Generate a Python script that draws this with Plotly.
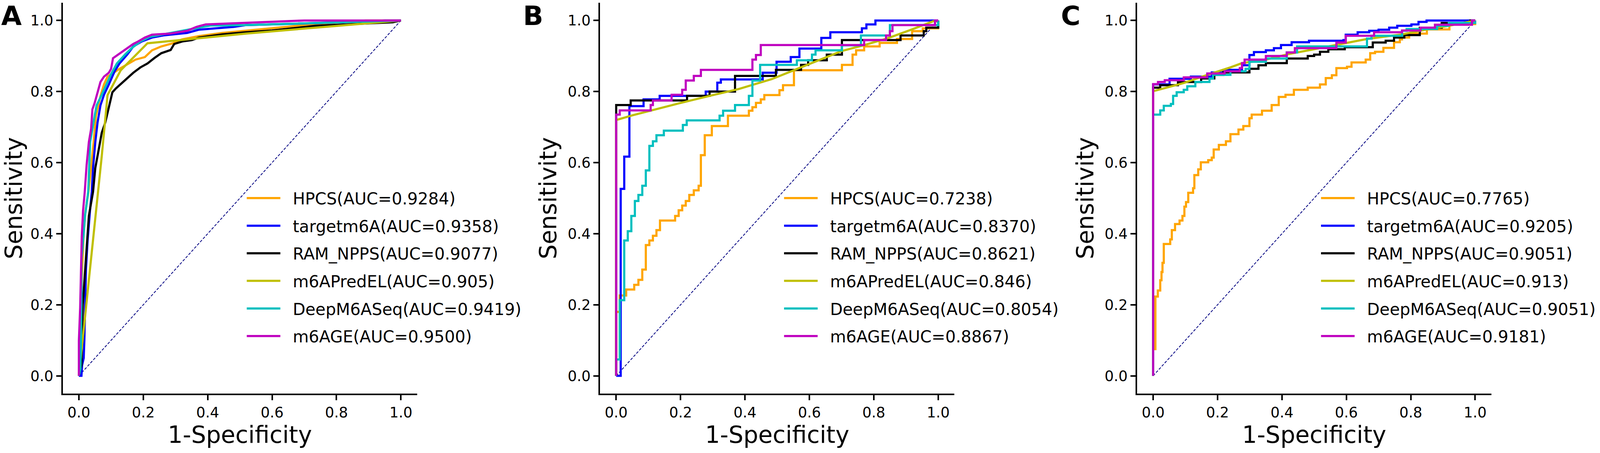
import plotly.graph_objects as go

# ---------------- data ----------------
METHODS = ["HPCS", "targetm6A", "RAM_NPPS", "m6APredEL", "DeepM6ASeq", "m6AGE"]

AUC_A = ["0.9284", "0.9358", "0.9077", "0.905", "0.9419", "0.9500"]
AUC_B = ["0.7238", "0.8370", "0.8621", "0.846", "0.8054", "0.8867"]
AUC_C = ["0.7765", "0.9205", "0.9051", "0.913", "0.9051", "0.9181"]

TICKS = [0.0, 0.2, 0.4, 0.6, 0.8, 1.0]
DIAG = [0, 1]

# panel A
A_HPCS_FPR = [0, 0.005, 0.010, 0.015, 0.020, 0.030, 0.038, 0.046, 0.053, 0.067, 0.078, 0.089, 0.126, 0.147,
              0.176, 0.205, 0.227, 0.256, 0.292, 0.321, 0.372, 0.445, 0.518, 0.60, 0.735, 0.89, 1.0]
A_HPCS_TPR = [0, 0.15, 0.30, 0.40, 0.46, 0.52, 0.585, 0.658, 0.732, 0.787, 0.820, 0.842, 0.864, 0.875,
              0.890, 0.897, 0.916, 0.927, 0.936, 0.947, 0.956, 0.965, 0.971, 0.978, 0.990, 1.0, 1.0]
A_TARGET_FPR = [0, 0.008, 0.010, 0.015, 0.017, 0.020, 0.022, 0.027, 0.030, 0.035, 0.040, 0.044, 0.051, 0.058,
                0.067, 0.078, 0.093, 0.111, 0.126, 0.151, 0.169, 0.195, 0.227, 0.263, 0.336, 0.372, 0.481,
                0.518, 0.75, 0.95, 1.0]
A_TARGET_TPR = [0, 0.0, 0.03, 0.05, 0.10, 0.20, 0.30, 0.38, 0.42, 0.47, 0.518, 0.585, 0.658, 0.713,
                0.761, 0.791, 0.820, 0.857, 0.879, 0.905, 0.927, 0.941, 0.952, 0.958, 0.965, 0.974, 0.982,
                0.987, 0.993, 1.0, 1.0]
A_RAM_FPR = [0, 0.008, 0.012, 0.018, 0.024, 0.031, 0.044, 0.051, 0.060, 0.071, 0.082, 0.089, 0.096, 0.104,
             0.115, 0.129, 0.147, 0.169, 0.191, 0.213, 0.234, 0.256, 0.285, 0.296, 0.321, 0.351, 0.372,
             0.445, 0.518, 0.60, 0.735, 0.975, 1.0]
A_RAM_TPR = [0, 0.03, 0.20, 0.28, 0.37, 0.45, 0.518, 0.585, 0.629, 0.684, 0.713, 0.739, 0.768, 0.798,
             0.809, 0.820, 0.835, 0.853, 0.868, 0.879, 0.894, 0.908, 0.917, 0.934, 0.941, 0.945, 0.952,
             0.961, 0.967, 0.972, 0.985, 0.995, 1.0]
A_PREDEL_FPR = [0, 0.071, 0.089, 0.13, 0.213, 0.518, 0.735, 1.0]
A_PREDEL_TPR = [0, 0.618, 0.79, 0.86, 0.936, 0.963, 0.98, 1.0]
A_DEEP_FPR = [0, 0.005, 0.008, 0.008, 0.014, 0.019, 0.029, 0.035, 0.049, 0.055, 0.071, 0.086, 0.100, 0.118,
              0.144, 0.165, 0.191, 0.220, 0.274, 0.318, 0.372, 0.409, 0.518, 0.735, 0.90, 1.0]
A_DEEP_TPR = [0, 0.02, 0.20, 0.325, 0.39, 0.45, 0.518, 0.658, 0.732, 0.761, 0.791, 0.820, 0.849, 0.879,
              0.905, 0.923, 0.941, 0.954, 0.963, 0.971, 0.980, 0.986, 0.987, 0.993, 0.998, 1.0]
A_M6AGE_FPR = [0, 0, 0.004, 0.006, 0.009, 0.013, 0.018, 0.024, 0.031, 0.038, 0.042, 0.049, 0.060, 0.067,
               0.078, 0.093, 0.100, 0.106, 0.111, 0.129, 0.147, 0.169, 0.184, 0.205, 0.227, 0.282, 0.336,
               0.365, 0.394, 0.518, 0.70, 1.0]
A_M6AGE_TPR = [0, 0.098, 0.192, 0.263, 0.392, 0.465, 0.515, 0.593, 0.658, 0.695, 0.750, 0.768, 0.805, 0.827,
               0.842, 0.853, 0.864, 0.894, 0.897, 0.908, 0.919, 0.934, 0.941, 0.952, 0.960, 0.963, 0.971,
               0.982, 0.989, 0.993, 1.0, 1.0]

# panel B
B_HPCS_FPR = [0, 0, 0.011, 0.031, 0.056, 0.069, 0.081, 0.092, 0.103, 0.114, 0.125, 0.136, 0.183, 0.194,
              0.205, 0.216, 0.227, 0.241, 0.256, 0.263, 0.275, 0.297, 0.347, 0.412, 0.423, 0.434, 0.449,
              0.46, 0.507, 0.518, 0.552, 0.701, 0.734, 0.745, 0.77, 0.818, 0.872, 0.919, 0.952, 1.0]
B_HPCS_TPR = [0, 0.18, 0.226, 0.243, 0.256, 0.27, 0.299, 0.368, 0.381, 0.394, 0.41, 0.437, 0.45, 0.466,
              0.479, 0.492, 0.509, 0.522, 0.535, 0.621, 0.677, 0.703, 0.732, 0.746, 0.756, 0.768, 0.778,
              0.79, 0.804, 0.818, 0.86, 0.875, 0.904, 0.916, 0.927, 0.937, 0.948, 0.97, 0.978, 1.0]
B_TARGET_FPR = [0, 0.014, 0.025, 0.041, 0.085, 0.135, 0.278, 0.314, 0.325, 0.455, 0.498, 0.542, 0.569,
                0.637, 0.665, 0.763, 0.777, 0.805, 1.0]
B_TARGET_TPR = [0, 0.526, 0.617, 0.759, 0.778, 0.788, 0.80, 0.825, 0.834, 0.853, 0.884, 0.897, 0.921,
                0.951, 0.967, 0.978, 0.989, 1.0, 1.0]
B_RAM_FPR = [0, 0, 0.045, 0.22, 0.29, 0.369, 0.496, 0.574, 0.596, 0.654, 0.701, 0.883, 0.955, 0.963, 1.0]
B_RAM_TPR = [0, 0.762, 0.775, 0.788, 0.80, 0.844, 0.861, 0.875, 0.888, 0.904, 0.945, 0.958, 0.97, 0.98, 1.0]
B_PREDEL_FPR = [0, 0, 0.05, 0.1, 0.2, 0.3, 0.38, 0.483, 0.552, 0.7, 0.767, 0.843, 0.919, 0.985, 1.0]
B_PREDEL_TPR = [0, 0.72, 0.733, 0.745, 0.768, 0.79, 0.807, 0.835, 0.86, 0.914, 0.93, 0.95, 0.975, 0.998, 1.0]
B_DEEP_FPR = [0, 0, 0.011, 0.025, 0.036, 0.047, 0.058, 0.069, 0.081, 0.092, 0.103, 0.114, 0.125, 0.148,
              0.207, 0.219, 0.321, 0.332, 0.369, 0.412, 0.423, 0.447, 0.561, 0.608, 0.619, 0.701, 0.76,
              0.85, 1.0]
B_DEEP_TPR = [0, 0.046, 0.213, 0.381, 0.407, 0.45, 0.492, 0.509, 0.535, 0.578, 0.647, 0.66, 0.677, 0.69,
              0.706, 0.719, 0.732, 0.746, 0.762, 0.788, 0.831, 0.875, 0.888, 0.904, 0.916, 0.93, 0.958,
              0.987, 1.0]
B_M6AGE_FPR = [0, 0, 0.011, 0.107, 0.114, 0.172, 0.205, 0.216, 0.241, 0.263, 0.423, 0.434, 0.449, 0.77,
               0.838, 0.85, 0.858, 0.99, 1.0]
B_M6AGE_TPR = [0, 0.735, 0.747, 0.762, 0.775, 0.791, 0.805, 0.831, 0.844, 0.861, 0.89, 0.903, 0.931, 0.945,
               0.958, 0.97, 0.987, 1.0, 1.0]

# panel C
C_HPCS_FPR = [0, 0, 0.007, 0.0145, 0.022, 0.026, 0.029, 0.033, 0.053, 0.058, 0.068, 0.082, 0.091, 0.097,
              0.102, 0.109, 0.124, 0.128, 0.14, 0.148, 0.171, 0.182, 0.188, 0.204, 0.226, 0.24, 0.265, 0.28,
              0.299, 0.306, 0.338, 0.368, 0.39, 0.411, 0.437, 0.48, 0.518, 0.536, 0.555, 0.569, 0.602,
              0.616, 0.66, 0.674, 0.689, 0.715, 0.748, 0.766, 0.773, 0.795, 0.85, 0.92, 1.0]
C_HPCS_TPR = [0, 0.075, 0.223, 0.24, 0.269, 0.292, 0.318, 0.371, 0.384, 0.41, 0.427, 0.437, 0.45, 0.476,
              0.489, 0.515, 0.528, 0.565, 0.581, 0.601, 0.607, 0.614, 0.637, 0.65, 0.66, 0.68, 0.693, 0.703,
              0.725, 0.735, 0.746, 0.762, 0.785, 0.791, 0.805, 0.811, 0.82, 0.838, 0.846, 0.866, 0.87,
              0.882, 0.89, 0.908, 0.912, 0.923, 0.939, 0.947, 0.952, 0.963, 0.975, 0.99, 1.0]
C_TARGET_FPR = [0, 0, 0.051, 0.117, 0.182, 0.218, 0.276, 0.299, 0.313, 0.35, 0.375, 0.397, 0.43, 0.484,
                0.591, 0.598, 0.635, 0.671, 0.70, 0.733, 0.758, 0.802, 0.824, 0.849, 1.0]
C_TARGET_TPR = [0, 0.82, 0.836, 0.842, 0.854, 0.861, 0.874, 0.903, 0.911, 0.916, 0.922, 0.931, 0.939, 0.943,
                0.945, 0.96, 0.967, 0.971, 0.974, 0.98, 0.985, 0.989, 0.996, 1.0, 1.0]
C_RAM_FPR = [0, 0, 0.022, 0.077, 0.149, 0.19, 0.218, 0.299, 0.327, 0.35, 0.415, 0.48, 0.50, 0.518, 0.544,
             0.595, 0.682, 0.722, 0.748, 0.78, 0.828, 0.896, 0.985, 1.0]
C_RAM_TPR = [0, 0.811, 0.818, 0.827, 0.837, 0.847, 0.854, 0.864, 0.874, 0.88, 0.893, 0.90, 0.904, 0.912,
             0.919, 0.925, 0.938, 0.943, 0.952, 0.959, 0.98, 0.993, 1.0, 1.0]
C_PREDEL_FPR = [0, 0, 0.095, 0.168, 0.24, 0.276, 0.35, 0.423, 0.482, 0.573, 0.664, 0.773, 0.845, 0.918,
                0.99, 1.0]
C_PREDEL_TPR = [0, 0.801, 0.824, 0.847, 0.868, 0.88, 0.89, 0.906, 0.916, 0.932, 0.948, 0.961, 0.974, 0.985,
                0.998, 1.0]
C_DEEP_FPR = [0, 0, 0.022, 0.033, 0.055, 0.062, 0.073, 0.095, 0.106, 0.131, 0.175, 0.186, 0.24, 0.287,
              0.299, 0.35, 0.415, 0.447, 0.664, 0.678, 0.773, 0.787, 0.882, 0.918, 1.0]
C_DEEP_TPR = [0, 0.735, 0.747, 0.76, 0.765, 0.788, 0.798, 0.805, 0.815, 0.827, 0.837, 0.847, 0.857, 0.864,
              0.884, 0.893, 0.91, 0.927, 0.949, 0.957, 0.971, 0.976, 0.985, 0.993, 1.0]
C_M6AGE_FPR = [0, 0, 0.015, 0.036, 0.095, 0.168, 0.222, 0.269, 0.276, 0.284, 0.35, 0.415, 0.44, 0.569,
               0.598, 0.686, 0.773, 0.83, 0.875, 0.99, 1.0]
C_M6AGE_TPR = [0, 0.821, 0.827, 0.832, 0.84, 0.851, 0.857, 0.866, 0.88, 0.89, 0.90, 0.91, 0.922, 0.938,
               0.957, 0.967, 0.972, 0.98, 0.988, 1.0, 1.0]

# ---------------- styling ----------------
COLORS = ["#FFA500", "#0000FF", "#000000", "#BFBF00", "#00BFBF", "#BF00BF"]
FONT = "DejaVu Sans"

# the screenshot only shows ~4096 px across, so the layout measured on the
# 4562 px reference is squeezed horizontally to fit that width
REF_W = 4562
W, H = 4096, 1159
K = W / REF_W

panels = [
    {"curves": [(A_HPCS_FPR, A_HPCS_TPR), (A_TARGET_FPR, A_TARGET_TPR), (A_RAM_FPR, A_RAM_TPR),
                (A_PREDEL_FPR, A_PREDEL_TPR), (A_DEEP_FPR, A_DEEP_TPR), (A_M6AGE_FPR, A_M6AGE_TPR)],
     "auc": AUC_A, "steps": False, "left": 179, "letter": "A", "letter_x": 33},
    {"curves": [(B_HPCS_FPR, B_HPCS_TPR), (B_TARGET_FPR, B_TARGET_TPR), (B_RAM_FPR, B_RAM_TPR),
                (B_PREDEL_FPR, B_PREDEL_TPR), (B_DEEP_FPR, B_DEEP_TPR), (B_M6AGE_FPR, B_M6AGE_TPR)],
     "auc": AUC_B, "steps": True, "left": 1711, "letter": "B", "letter_x": 1520},
    {"curves": [(C_HPCS_FPR, C_HPCS_TPR), (C_TARGET_FPR, C_TARGET_TPR), (C_RAM_FPR, C_RAM_TPR),
                (C_PREDEL_FPR, C_PREDEL_TPR), (C_DEEP_FPR, C_DEEP_TPR), (C_M6AGE_FPR, C_M6AGE_TPR)],
     "auc": AUC_C, "steps": True, "left": 3242, "letter": "C", "letter_x": 3053},
]

PLOT_W = 1010
PLOT_TOP, PLOT_BOTTOM = 7, 1007

fig = go.Figure()
layout = dict(
    width=W, height=H,
    margin=dict(l=0, r=0, t=0, b=0),
    paper_bgcolor="white", plot_bgcolor="white",
    showlegend=True,
    annotations=[],
)

for p, panel in enumerate(panels):
    sfx = "" if p == 0 else str(p + 1)
    xa, ya = "x" + sfx, "y" + sfx
    leg = "legend" + sfx

    # chance line
    fig.add_trace(go.Scatter(
        x=DIAG, y=DIAG, mode="lines", xaxis=xa, yaxis=ya,
        line=dict(color="#000080", width=2, dash="7px,4px"),
        showlegend=False, hoverinfo="skip"))

    for i, (fpr, tpr) in enumerate(panel["curves"]):
        shape = "hv" if (panel["steps"] and METHODS[i] != "m6APredEL") else "linear"
        fig.add_trace(go.Scatter(
            x=fpr, y=tpr, mode="lines", xaxis=xa, yaxis=ya,
            line=dict(color=COLORS[i], width=5.5, shape=shape),
            name="\u00a0\u00a0" + METHODS[i] + "(AUC=" + panel["auc"][i] + ")",
            legend=leg, legendgroup=panel["letter"] + str(i),
            hoverinfo="skip"))

    left = panel["left"]
    axis_common = dict(
        range=[-0.05, 1.05], tickvals=TICKS, ticktext=["%.1f" % t for t in TICKS],
        showgrid=False, zeroline=False, showline=True, linecolor="black", linewidth=3.5,
        ticks="outside", ticklen=13, tickwidth=3.5, tickcolor="black",
        tickfont=dict(family=FONT, size=37, color="black"),
    )
    layout["xaxis" + sfx] = dict(
        axis_common, domain=[left * K / W, (left + PLOT_W) * K / W], anchor=ya,
        title=dict(text="1-Specificity", font=dict(family=FONT, size=60, color="black"), standoff=8))
    layout["yaxis" + sfx] = dict(
        axis_common, domain=[1 - PLOT_BOTTOM / H, 1 - PLOT_TOP / H], anchor=xa,
        title=dict(text="Sensitivity", font=dict(family=FONT, size=60, color="black"), standoff=10))
    layout[leg] = dict(
        x=(left + 519) * K / W, y=1 - 473 / H, xanchor="left", yanchor="top",
        bgcolor="rgba(0,0,0,0)", borderwidth=0, traceorder="grouped",
        tracegroupgap=13, itemwidth=86,
        font=dict(family=FONT, size=42, color="black"))
    layout["annotations"].append(dict(
        text=panel["letter"], x=panel["letter_x"] * K / W, y=1 - 41 / H, xref="paper", yref="paper",
        xanchor="center", yanchor="middle", showarrow=False,
        font=dict(family=FONT, size=68, color="black", weight="bold")))

fig.update_layout(**layout)
fig.write_html("out.html", config={"displayModeBar": False},
               post_script="document.body.style.margin='0';")
